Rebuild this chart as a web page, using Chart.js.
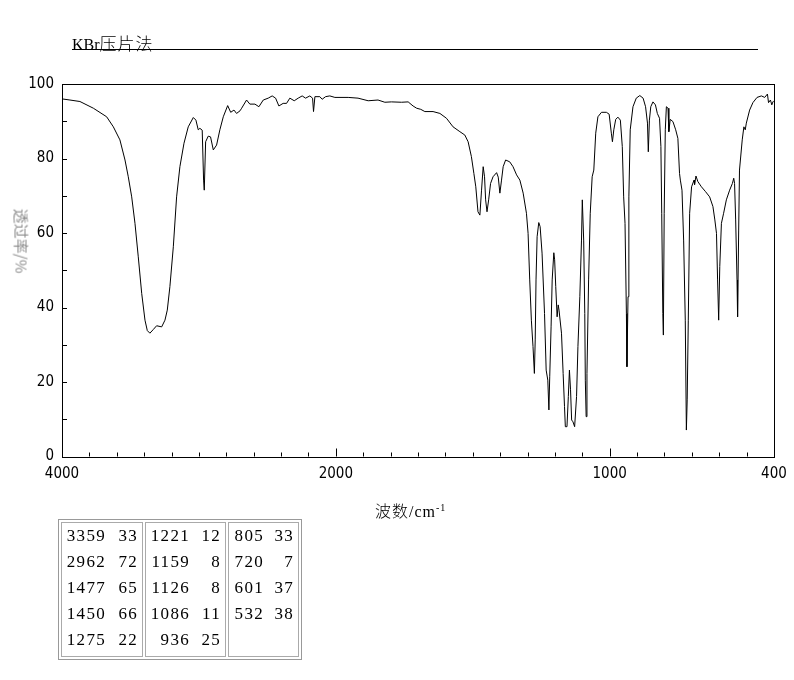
<!DOCTYPE html>
<html>
<head>
<meta charset="utf-8">
<script src="https://cdn.jsdelivr.net/npm/chart.js@4.4.0/dist/chart.umd.min.js"></script>
<style>
  body { margin: 0; background: #fff; }
  #wrap { position: relative; width: 794px; height: 680px; }
  #ir { position: absolute; left: 0; top: 0; }
  #title {
    position: absolute; left: 72px; top: 30px; width: 686px;
    border-bottom: 1px solid #000; height: 19px;
    font: 16px "Liberation Serif", "Noto Sans CJK SC", serif; color: #000;
  }
  #title .cjk { font-family: "Noto Sans CJK SC", sans-serif; font-size: 17px; letter-spacing: 1px; font-weight: 300; }
  #xtitle {
    position: absolute; left: 375px; top: 498px;
    font: 16px "Liberation Serif", "Noto Sans CJK SC", serif; color: #000; letter-spacing: 1px;
  }
  #xtitle .cjk { font-family: "Noto Sans CJK SC", sans-serif; font-weight: 300; }
  #xtitle sup { font-size: 10px; }
  #ytitle {
    position: absolute; left: 22px; top: 241px;
    transform: translate(-50%, -50%) rotate(90deg);
    font: 15px "Noto Sans CJK SC", sans-serif; font-weight: 400; color: #8a8a8a; white-space: nowrap;
  }
  #peaks {
    position: absolute; left: 58px; top: 519px;
    border: 1px solid #999; border-spacing: 2px;
    font: 17px "Liberation Serif", serif; color: #000;
  }
  #peaks td { border: 1px solid #aaa; padding: 0 4px 3px 4px; vertical-align: top; }
  #peaks .row { height: 26px; line-height: 25px; white-space: nowrap; letter-spacing: 1.3px; }
  #peaks span { display: inline-block; text-align: right; }
</style>
</head>
<body>
<div id="wrap">
  <canvas id="ir" width="794" height="680"></canvas>
  <div id="title">KBr<span class="cjk">压片法</span></div>
  <div id="xtitle"><span class="cjk">波数</span>/cm<sup>-1</sup></div>
  <div id="ytitle">透过率/%</div>
  <table id="peaks"><tr id="peakRow"></tr></table>
</div>
<script>
// spectrum, wavenumber (cm-1) and transmittance (%)
const wavenumbers = [
  4000, 3942, 3869, 3771, 3674, 3625, 3577, 3540, 3516, 3491, 3467, 3443, 3418, 3394, 3377, 3358,
  3333, 3309, 3272, 3248, 3231, 3212, 3187, 3163, 3139, 3109, 3078, 3041, 3022, 3005, 2993, 2976,
  2966, 2961, 2951, 2932, 2915, 2895, 2871, 2847, 2822, 2790, 2768, 2744, 2725, 2700, 2688, 2652,
  2628, 2591, 2562, 2530, 2494, 2465, 2440, 2416, 2385, 2360, 2336, 2304, 2275, 2246, 2221, 2190,
  2170, 2163, 2153, 2117, 2100, 2075, 2044, 2007, 1955, 1919, 1882, 1846, 1821, 1797, 1760, 1736,
  1718, 1705, 1690, 1675, 1645, 1620, 1596, 1572, 1547, 1529, 1517, 1505, 1496, 1489, 1481, 1474,
  1468, 1462, 1457, 1453, 1448, 1442, 1435, 1426, 1413, 1407, 1401, 1395, 1389, 1380, 1365, 1353,
  1340, 1328, 1316, 1304, 1298, 1292, 1286, 1280, 1275, 1272, 1269, 1265, 1259, 1254, 1247, 1238,
  1232, 1226, 1222, 1219, 1214, 1210, 1204, 1201, 1197, 1192, 1188, 1185, 1176, 1170, 1165, 1162,
  1156, 1151, 1147, 1143, 1139, 1134, 1128, 1121, 1116, 1109, 1103, 1100, 1095, 1091, 1089, 1086,
  1083, 1077, 1071, 1064, 1058, 1051, 1043, 1030, 1012, 1002, 994, 990, 985, 978, 970, 961,
  954, 949, 944, 939, 937, 933, 930, 925, 915, 903, 890, 878, 869, 862, 859, 855,
  850, 842, 833, 826, 818, 813, 810, 806, 804, 801, 797, 793, 787, 784, 779, 769,
  759, 751, 745, 742, 736, 730, 724, 720, 717, 713, 708, 701, 692, 690, 685, 678,
  665, 650, 635, 623, 616, 610, 606, 602, 598, 592, 584, 574, 562, 552, 547, 544,
  540, 535, 533, 529, 526, 516, 510, 505, 501, 489, 477, 462, 446, 434, 424, 420,
  413, 408, 404, 400
];
const transmittance = [
  96.0, 95.7, 95.3, 93.5, 91.2, 88.5, 85.0, 79.6, 75.1, 69.7, 62.6, 53.6, 43.8, 36.6, 33.8, 33.1,
  34.1, 35.1, 34.8, 36.6, 39.3, 45.6, 56.3, 69.7, 77.8, 84.1, 88.5, 91.0, 90.3, 87.7, 88.1, 87.6,
  74.2, 71.5, 84.5, 86.0, 85.8, 82.3, 83.6, 87.7, 91.2, 94.2, 92.4, 93.0, 92.1, 92.8, 93.5, 95.7,
  94.6, 94.6, 93.9, 95.7, 96.2, 96.8, 96.2, 94.1, 94.8, 94.8, 96.2, 95.5, 96.2, 96.8, 96.2, 96.8,
  96.2, 92.6, 96.6, 96.6, 95.9, 96.6, 96.8, 96.4, 96.4, 96.2, 95.5, 95.7, 95.1, 95.2, 95.1, 95.2,
  94.1, 93.5, 93.2, 92.6, 92.6, 92.1, 90.8, 88.5, 87.2, 86.3, 84.5, 80.5, 76.0, 72.4, 65.7, 64.8,
  71.5, 77.8, 75.1, 68.9, 65.7, 68.9, 73.3, 75.1, 76.2, 75.0, 70.7, 74.2, 77.8, 79.6, 79.1, 77.8,
  75.6, 74.2, 70.7, 65.3, 59.9, 47.4, 36.6, 29.5, 22.3, 31.3, 47.4, 59.0, 62.8, 61.7, 54.6, 38.4,
  23.2, 20.5, 12.5, 21.4, 34.8, 47.4, 54.7, 52.8, 45.6, 37.5, 40.7, 39.3, 33.1, 22.3, 13.4, 8.0,
  8.0, 16.1, 23.2, 17.9, 9.8, 9.3, 8.0, 16.1, 29.5, 42.9, 58.1, 68.9, 58.1, 38.4, 20.5, 10.7,
  22.3, 47.4, 65.3, 75.1, 76.9, 86.8, 91.2, 92.4, 92.4, 91.9, 86.8, 84.5, 87.7, 90.5, 91.1, 90.3,
  83.2, 69.7, 62.6, 38.4, 24.1, 42.9, 69.7, 87.7, 93.9, 96.2, 96.9, 96.2, 93.9, 89.5, 81.8, 90.3,
  93.9, 95.2, 94.4, 92.1, 90.8, 83.2, 65.3, 38.4, 32.6, 65.3, 87.7, 93.9, 93.5, 87.2, 90.5, 89.9,
  87.7, 85.4, 76.0, 74.2, 71.5, 58.1, 36.6, 7.1, 15.2, 36.6, 65.3, 72.4, 74.2, 73.0, 75.3, 73.8,
  72.4, 71.1, 69.7, 67.1, 63.5, 59.9, 47.4, 36.6, 51.0, 62.6, 65.3, 68.9, 71.5, 73.3, 74.7, 73.3,
  63.5, 47.4, 37.5, 60.8, 76.9, 85.0, 88.5, 87.7, 89.5, 93.0, 95.0, 96.4, 96.8, 96.4, 97.3, 95.0,
  95.7, 94.4, 95.2, 95.5
];

// axis ticks
const xLabelTicks = [4000, 2000, 1000, 400];
const xMajorTicks = [2000, 1000];
const xMinorTicks = [3800, 3600, 3400, 3200, 3000, 2800, 2600, 2400, 2200,
  1900, 1800, 1700, 1600, 1500, 1400, 1300, 1200, 1100, 900, 800, 700, 600, 500];
const yMinorTicks = [10, 20, 30, 40, 50, 60, 70, 80, 90];

// peak table
const peakWn = [3359, 2962, 1477, 1450, 1275, 1221, 1159, 1126, 1086, 936, 805, 720, 601, 532];
const peakT = [33, 72, 65, 66, 22, 12, 8, 8, 11, 25, 33, 7, 37, 38];

// the axis is compressed 2x above 2000 cm-1
const xPos = (wn) => (wn >= 2000 ? (4000 - wn) / 2 : 1000 + (2000 - wn));
const xWn = (p) => (p <= 1000 ? 4000 - 2 * p : 2000 - (p - 1000));

const points = wavenumbers.map((w, i) => ({ x: xPos(w), y: transmittance[i] }));

const tickFont = { family: "'Liberation Sans Narrow', 'DejaVu Sans Condensed', sans-serif", size: 15 };

const framePlugin = {
  id: "frame",
  afterDraw(chart) {
    const ctx = chart.ctx;
    const { left, right, top, bottom } = chart.chartArea;
    const xs = chart.scales.x;
    const ys = chart.scales.y;
    ctx.save();
    ctx.strokeStyle = "#000";
    ctx.lineWidth = 1;
    ctx.strokeRect(Math.round(left) + 0.5, Math.round(top) + 0.5,
      Math.round(right - left), Math.round(bottom - top));
    ctx.beginPath();
    xMinorTicks.forEach((w) => {
      const px = Math.round(xs.getPixelForValue(xPos(w))) + 0.5;
      ctx.moveTo(px, bottom);
      ctx.lineTo(px, bottom - 4);
    });
    xMajorTicks.forEach((w) => {
      const px = Math.round(xs.getPixelForValue(xPos(w))) + 0.5;
      ctx.moveTo(px, bottom);
      ctx.lineTo(px, bottom - 8);
    });
    yMinorTicks.forEach((v) => {
      const py = Math.round(ys.getPixelForValue(v)) + 0.5;
      ctx.moveTo(left, py);
      ctx.lineTo(left + 5, py);
    });
    ctx.stroke();
    ctx.restore();
  },
};

new Chart(document.getElementById("ir"), {
  type: "line",
  data: {
    datasets: [
      {
        data: points,
        borderColor: "#000",
        borderWidth: 1,
        pointRadius: 0,
        tension: 0,
        fill: false,
      },
    ],
  },
  options: {
    responsive: false,
    animation: false,
    devicePixelRatio: 1,
    layout: { padding: { left: 0, right: 20, top: 84, bottom: 0 } },
    plugins: {
      legend: { display: false },
      tooltip: { enabled: false },
    },
    scales: {
      x: {
        type: "linear",
        min: 0,
        max: 2600,
        grid: { display: false },
        border: { display: false },
        afterBuildTicks: (scale) => {
          scale.ticks = xLabelTicks.map((w) => ({ value: xPos(w) }));
        },
        afterFit: (scale) => {
          scale.height = 223.5;
        },
        ticks: {
          autoSkip: false,
          maxRotation: 0,
          padding: 1,
          color: "#000",
          font: tickFont,
          callback: (v) => String(Math.round(xWn(v))),
        },
      },
      y: {
        min: 0,
        max: 100,
        grid: { display: false },
        border: { display: false },
        afterFit: (scale) => {
          scale.width = 62;
        },
        ticks: {
          stepSize: 20,
          padding: 0,
          color: "#000",
          font: tickFont,
        },
      },
    },
  },
  plugins: [framePlugin],
});

// peak table, 5 rows per column
const row = document.getElementById("peakRow");
const wnWidths = [40, 40, 31];
const tWidths = [32, 31, 30];
for (let c = 0; c < 3; c++) {
  const td = document.createElement("td");
  for (let r = 0; r < 5; r++) {
    const i = c * 5 + r;
    const line = document.createElement("div");
    line.className = "row";
    if (i < peakWn.length) {
      line.innerHTML =
        '<span style="width:' + wnWidths[c] + 'px">' + peakWn[i] + "</span>" +
        '<span style="width:' + tWidths[c] + 'px">' + peakT[i] + "</span>";
    } else {
      line.innerHTML = "&nbsp;";
    }
    td.appendChild(line);
  }
  row.appendChild(td);
}
</script>
</body>
</html>
